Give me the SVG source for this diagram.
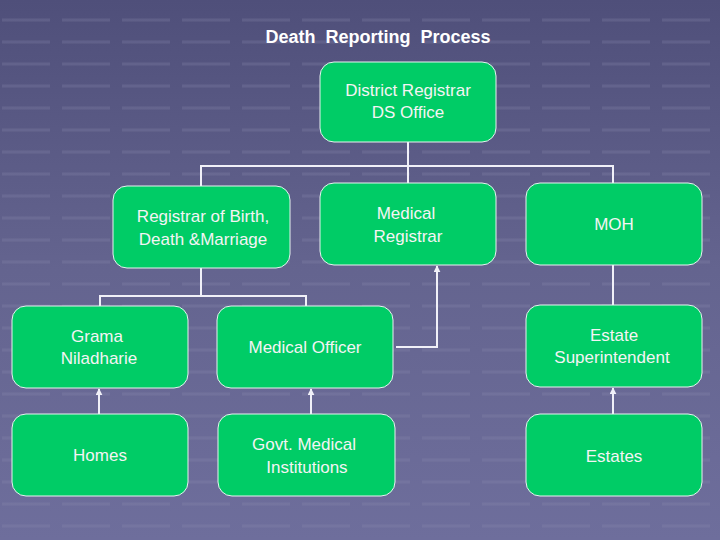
<svg xmlns="http://www.w3.org/2000/svg" width="720" height="540" viewBox="0 0 720 540">
<defs>
<linearGradient id="bg" x1="0" y1="0" x2="0" y2="1">
<stop offset="0" stop-color="#4f4f7a"/><stop offset="0.5" stop-color="#64648f"/><stop offset="1" stop-color="#6e6e9c"/>
</linearGradient>
<pattern id="grid" width="60" height="22" patternUnits="userSpaceOnUse">
<line x1="2" y1="20" x2="50" y2="20" stroke="#8a8ab0" stroke-opacity="0.25" stroke-width="3"/>
</pattern>
<marker id="ar" viewBox="0 0 10 10" refX="9" refY="5" markerWidth="3.5" markerHeight="3.5" orient="auto"><path d="M0,0L10,5L0,10z" fill="#f0f0f8"/></marker>
<style>
.n{fill:#00cc66;stroke:#e8f0f0;stroke-width:1}
.t{font-family:"Liberation Sans",Arial,sans-serif;font-size:17px;fill:#f4f4f4;text-anchor:middle}
.c{fill:none;stroke:#f0f0f8;stroke-width:2}
</style>
</defs>
<rect width="720" height="540" fill="url(#bg)"/>
<rect width="720" height="540" fill="url(#grid)"/>
<text x="378" y="43" font-family="Liberation Sans,Arial,sans-serif" font-size="18" font-weight="bold" fill="#fff" text-anchor="middle" xml:space="preserve" style="white-space:pre">Death  Reporting  Process</text>
<g id="connectors">
<path class="c" d="M408,142V166M201,186V166H613V183M408,166V183"/>
<path class="c" d="M201,268V296M100,306V296H306V306"/>
<path class="c" d="M396,347H437V266" marker-end="url(#ar)"/>
<path class="c" d="M613,265V305"/>
<path class="c" d="M99,414V389" marker-end="url(#ar)"/>
<path class="c" d="M311,414V389" marker-end="url(#ar)"/>
<path class="c" d="M613,414V388" marker-end="url(#ar)"/>
</g>
<g id="district"><rect class="n" x="320" y="62" width="176" height="80" rx="14"/><text class="t" x="408" y="96">District Registrar</text><text class="t" x="408" y="118">DS Office</text></g>
<g id="rbdm"><rect class="n" x="113" y="186" width="177" height="82" rx="14"/><text class="t" x="203" y="222">Registrar of Birth,</text><text class="t" x="203" y="245">Death &amp;Marriage</text></g>
<g id="medreg"><rect class="n" x="320" y="183" width="176" height="82" rx="14"/><text class="t" x="406" y="219">Medical</text><text class="t" x="408" y="242">Registrar</text></g>
<g id="moh"><rect class="n" x="526" y="183" width="176" height="82" rx="14"/><text class="t" x="614" y="230">MOH</text></g>
<g id="grama"><rect class="n" x="12" y="306" width="176" height="82" rx="14"/><text class="t" x="97" y="342">Grama</text><text class="t" x="99" y="364">Niladharie</text></g>
<g id="medoff"><rect class="n" x="217" y="306" width="176" height="82" rx="14"/><text class="t" x="305" y="353">Medical Officer</text></g>
<g id="estsup"><rect class="n" x="526" y="305" width="176" height="82" rx="14"/><text class="t" x="614" y="341">Estate</text><text class="t" x="612" y="363">Superintendent</text></g>
<g id="homes"><rect class="n" x="12" y="414" width="176" height="82" rx="14"/><text class="t" x="100" y="461">Homes</text></g>
<g id="govt"><rect class="n" x="218" y="414" width="177" height="82" rx="14"/><text class="t" x="304" y="450">Govt. Medical</text><text class="t" x="307" y="473">Institutions</text></g>
<g id="estates"><rect class="n" x="526" y="414" width="176" height="82" rx="14"/><text class="t" x="614" y="462">Estates</text></g>
</svg>
